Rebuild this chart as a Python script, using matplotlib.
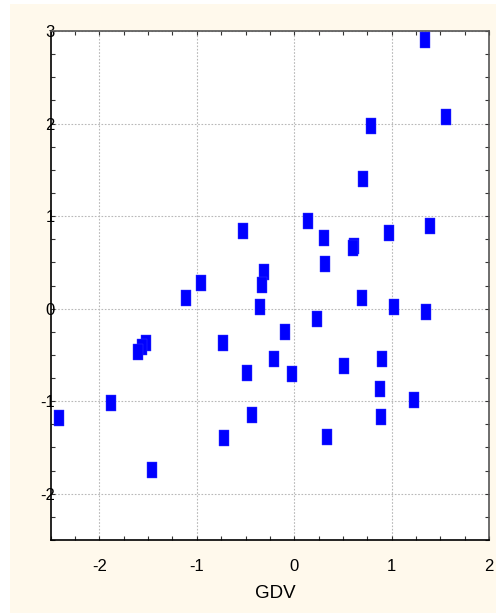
import numpy as np
import matplotlib.pyplot as plt
from matplotlib.patches import Rectangle
from matplotlib.ticker import MultipleLocator

plt.rcParams['font.family'] = ['Liberation Sans', 'DejaVu Sans']

# scores
gdv = [1.343, 1.555, 0.785, 0.709, 0.145, 0.309, 0.970, 1.394, 0.614, 0.601,
       0.316, -0.310, -0.334, -0.529, 0.693, -0.354, 1.025, 1.356, 0.231, -0.091,
       -0.210, -0.488, -0.026, 0.514, 0.901, 0.878, 1.233, -0.433, 0.894, 0.340,
       -0.734, -1.881, -2.415, -0.718, -1.457, -1.114, -0.957, -1.522, -1.563, -1.604]
yval = [2.903, 2.074, 1.970, 1.400, 0.943, 0.759, 0.819, 0.895, 0.679, 0.651,
        0.484, 0.391, 0.254, 0.838, 0.117, 0.019, 0.019, -0.038, -0.114, -0.251,
        -0.543, -0.694, -0.711, -0.618, -0.543, -0.863, -0.986, -1.154, -1.170, -1.382,
        -0.376, -1.018, -1.187, -1.397, -1.749, 0.117, 0.272, -0.376, -0.416, -0.470]

xticks = [-2, -1, 0, 1, 2]
yticks = [-2, -1, 0, 1, 2, 3]

fig = plt.figure(figsize=(4.96, 6.13), dpi=100, facecolor='white')
# cream panel behind the plot
fig.patches.append(Rectangle((10/496, 0), 1, 1 - 4/613, transform=fig.transFigure,
                             facecolor='#fff9ec', edgecolor='none', zorder=-10))

ax = fig.add_axes([50.7/496, 73/613, 438.3/496, 509/613])
ax.set_facecolor('white')

# tall rectangle marker
rect = [(-0.27, -0.5), (0.27, -0.5), (0.27, 0.5), (-0.27, 0.5), (-0.27, -0.5)]
ax.scatter(gdv, yval, marker=rect, s=12**2, facecolor='#0000ff',
           edgecolor='#3a3aff', linewidths=0.3, zorder=3, clip_on=False)

ax.set_xlim(-2.5, 2)
ax.set_ylim(-2.5, 3)
ax.set_xticks(xticks)
ax.set_yticks(yticks)
ax.set_xticklabels([str(t) for t in xticks])
ax.set_yticklabels([str(t) for t in yticks])
ax.xaxis.set_minor_locator(MultipleLocator(0.25))
ax.yaxis.set_minor_locator(MultipleLocator(0.25))

ax.tick_params(which='both', direction='in', top=True, right=True,
               length=3, width=0.8, color='#333333')
ax.tick_params(axis='x', which='major', labelsize=12, pad=14)
ax.tick_params(axis='y', which='major', labelsize=12, pad=-3)

ax.grid(True, which='major', linestyle=(0, (1.5, 1.5)), color='#b8b8b8', linewidth=0.8)
ax.set_axisbelow(True)

for side in ['left', 'bottom']:
    ax.spines[side].set_color('black')
    ax.spines[side].set_linewidth(1.2)
for side in ['top', 'right']:
    ax.spines[side].set_color('#555555')
    ax.spines[side].set_linewidth(1.2)

fig.text(275/496, 1 - 594/613, 'GDV', fontsize=13.5, ha='center', va='center')

plt.savefig('out.png', dpi=100)
